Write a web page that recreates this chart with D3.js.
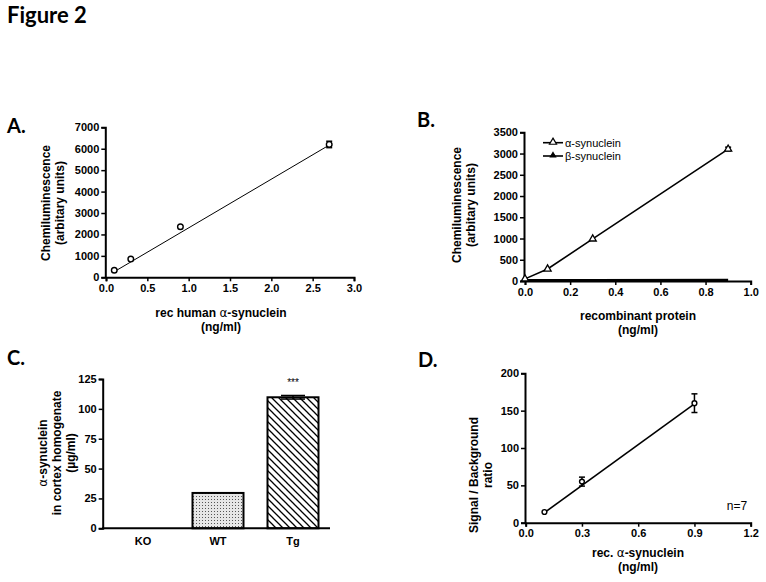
<!DOCTYPE html>
<html><head><meta charset="utf-8">
<script src="https://cdn.jsdelivr.net/npm/d3@7/dist/d3.min.js"></script>
<style>
body{margin:0;background:#fff}
svg{display:block}
.ttl{font-family:"Liberation Sans",Arial,sans-serif;font-weight:bold;font-size:12px;fill:#000}
.big{font-family:Lato,"Open Sans",sans-serif;font-weight:bold;fill:#000}
</style></head><body>
<script>
// ---------- DATA ----------
// Panel A
const aX = [0.1, 0.3, 0.9, 2.7];
const aY = [330, 850, 2360, 6200];
const aErr = [0, 0, 0, 150];
const aFit = [[0.1, 262], [2.7, 6170]];
const aXTicks = [0, 0.5, 1.0, 1.5, 2.0, 2.5, 3.0];
const aYTicks = [0, 1000, 2000, 3000, 4000, 5000, 6000, 7000];
// Panel B
const bX = [0, 0.1, 0.3, 0.9];
const bAlpha = [50, 282, 990, 3105];
const bAlphaErr = [0, 0, 0, 45];
const bBeta = [12, 14, 14, 16];
const bXTicks = [0, 0.2, 0.4, 0.6, 0.8, 1.0];
const bYTicks = [0, 500, 1000, 1500, 2000, 2500, 3000, 3500];
const bSeries = ["α-synuclein", "β-synuclein"];
// Panel C
const cCats = ["KO", "WT", "Tg"];
const cVals = [0, 29.6, 109.7];
const cErr = [0, 0, 1.5];
const cYTicks = [0, 25, 50, 75, 100, 125];
// Panel D
const dX = [0.1, 0.3, 0.9];
const dY = [14.3, 55, 160];
const dErr = [0, 6, 12.5];
const dFit = [[0.1, 13.5], [0.9, 159]];
const dXTicks = [0, 0.3, 0.6, 0.9, 1.2];
const dYTicks = [0, 50, 100, 150, 200];

// ---------- DRAW ----------
const svg = d3.select("body").append("svg").attr("width", 766).attr("height", 582);
const defs = svg.append("defs");
const hatch = defs.append("pattern").attr("id","hatch").attr("patternUnits","userSpaceOnUse")
  .attr("width",7).attr("height",7);
hatch.append("rect").attr("width",7).attr("height",7).attr("fill","#fff");
hatch.append("path").attr("d","M-1,-1 L8,8 M-1,6 L1,8 M6,-1 L8,1").attr("stroke","#000").attr("stroke-width",1.3);
const dots = defs.append("pattern").attr("id","dots").attr("patternUnits","userSpaceOnUse")
  .attr("width",3).attr("height",3);
dots.append("rect").attr("width",3).attr("height",3).attr("fill","#e6e6e6");
dots.append("rect").attr("x",1).attr("y",1).attr("width",1).attr("height",1).attr("fill","#555");

svg.append("text").attr("class","big").attr("x",7).attr("y",23).attr("font-size",22).text("Figure 2");
[["A.",7,133],["B.",417,127],["C.",7,365],["D.",418,367]].forEach(([t,x,y])=>
  svg.append("text").attr("class","big").attr("x",x).attr("y",y).attr("font-size",20).text(t));

function styleAxis(g){
  g.attr("font-family","Liberation Sans, Arial, sans-serif").attr("font-size",11).attr("font-weight","bold");
  g.select(".domain").attr("stroke","#000").attr("stroke-width",2);
  g.selectAll(".tick line").attr("stroke","#000").attr("stroke-width",1.5);
  g.selectAll(".tick text").attr("fill","#000");
}
const fmt1 = d3.format(".1f");
const fmtI = d3.format("d");

function title(lines, x, y, rotate){
  const t = svg.append("text").attr("class","ttl").attr("text-anchor","middle")
    .attr("transform", rotate ? `translate(${x},${y}) rotate(-90)` : `translate(${x},${y})`);
  lines.forEach((ln,i)=>{
    const ts = t.append("tspan").attr("x",0).attr("dy", i===0 ? 0 : 14);
    ln.split(/(α|β)/).forEach(part=>{
      if(!part) return;
      const s = ts.append("tspan").text(part);
      if(/α|β/.test(part)) s.attr("font-weight","normal").attr("font-family","DejaVu Sans");
    });
  });
  return t;
}

function errBars(g, xs, ys, es, x, y, cap){
  xs.forEach((xv,i)=>{
    if(!es[i]) return;
    const px = x(xv), y1 = y(ys[i]-es[i]), y2 = y(ys[i]+es[i]);
    g.append("line").attr("x1",px).attr("x2",px).attr("y1",y1).attr("y2",y2).attr("stroke","#000").attr("stroke-width",1.5);
    [y1,y2].forEach(yy=>g.append("line").attr("x1",px-cap).attr("x2",px+cap).attr("y1",yy).attr("y2",yy).attr("stroke","#000").attr("stroke-width",1.5));
  });
}

// ---- Panel A ----
{
  const x = d3.scaleLinear().domain([0,3]).range([106,354]);
  const y = d3.scaleLinear().domain([0,7000]).range([277.3,127.3]);
  const g = svg.append("g");
  g.append("g").attr("transform","translate(0,277.3)").call(d3.axisBottom(x).tickValues(aXTicks).tickFormat(fmt1).tickSize(4).tickPadding(3)).call(styleAxis);
  g.append("g").attr("transform","translate(105.3,0)").call(d3.axisLeft(y).tickValues(aYTicks).tickFormat(fmtI).tickSize(4).tickPadding(2)).call(styleAxis);
  g.append("path").attr("d", d3.line().x(d=>x(d[0])).y(d=>y(d[1]))(aFit)).attr("stroke","#000").attr("stroke-width",1).attr("fill","none");
  errBars(g, aX, aY, aErr, x, y, 3);
  g.selectAll("circle.pa").data(aX).join("circle").attr("cx",d=>x(d)).attr("cy",(d,i)=>y(aY[i])).attr("r",2.8)
    .attr("fill","#fff").attr("stroke","#000").attr("stroke-width",1.4);
  title(["Chemiluminescence","(arbitary units)"], 50, 203, true);
  title(["rec human α-synuclein","(ng/ml)"], 221, 317, false);
}

// ---- Panel B ----
{
  const x = d3.scaleLinear().domain([0,1]).range([525,750.7]);
  const y = d3.scaleLinear().domain([0,3500]).range([281,132.3]);
  const g = svg.append("g");
  g.append("g").attr("transform","translate(0,281)").call(d3.axisBottom(x).tickValues(bXTicks).tickFormat(fmt1).tickSize(4).tickPadding(3)).call(styleAxis);
  g.append("g").attr("transform","translate(524,0)").call(d3.axisLeft(y).tickValues(bYTicks).tickFormat(fmtI).tickSize(4).tickPadding(2)).call(styleAxis);
  const line = d3.line().x((d,i)=>x(bX[i])).y(d=>y(d));
  g.append("path").attr("d", line(bBeta)).attr("stroke","#000").attr("stroke-width",3).attr("fill","none");
  g.append("path").attr("d", line(bAlpha)).attr("stroke","#000").attr("stroke-width",1.6).attr("fill","none");
  errBars(g, bX, bAlpha, bAlphaErr, x, y, 3);
  const tri = d3.symbol().type(d3.symbolTriangle).size(22);
  g.selectAll("path.ta").data(bX).join("path").attr("transform",(d,i)=>`translate(${x(d)},${y(bAlpha[i])})`)
    .attr("d",tri).attr("fill","#fff").attr("stroke","#000").attr("stroke-width",1.3);
  const lg = svg.append("g");
  const triS = d3.symbol().type(d3.symbolTriangle);
  bSeries.forEach((s,i)=>{
    const ly = 142.7 + i*13.3;
    lg.append("line").attr("x1",543).attr("x2",563).attr("y1",ly).attr("y2",ly).attr("stroke","#000").attr("stroke-width",1.6);
    lg.append("path").attr("transform",`translate(553,${ly-0.5})`).attr("d",triS.size(i===0?22:12)())
      .attr("fill", i===0 ? "#fff" : "#000").attr("stroke","#000").attr("stroke-width",1.2);
    lg.append("text").attr("x",565).attr("y",ly+4).attr("font-family","Liberation Sans, Arial, sans-serif")
      .attr("font-size",11).text(s);
  });
  title(["Chemiluminescence","(arbitary units)"], 461, 205, true);
  title(["recombinant protein","(ng/ml)"], 638, 320, false);
}

// ---- Panel C ----
{
  const x = d3.scaleBand().domain(cCats).range([105.5,330.5]).paddingInner(0.32).paddingOuter(0.16);
  const y = d3.scaleLinear().domain([0,125]).range([528.3,379]);
  const g = svg.append("g");
  g.selectAll("rect.bar").data(cCats).join("rect")
    .attr("x",d=>x(d)).attr("width",x.bandwidth())
    .attr("y",(d,i)=>y(cVals[i])).attr("height",(d,i)=>y(0)-y(cVals[i]))
    .attr("fill",(d,i)=> i===1 ? "url(#dots)" : "url(#hatch)")
    .attr("stroke",(d,i)=> cVals[i]>0 ? "#000" : "none").attr("stroke-width",2);
  cCats.forEach((c,i)=>{
    if(!cErr[i]) return;
    const cx = x(c)+x.bandwidth()/2;
    const y1 = y(cVals[i]-cErr[i]), y2 = y(cVals[i]+cErr[i]);
    g.append("line").attr("x1",cx).attr("x2",cx).attr("y1",y1).attr("y2",y2).attr("stroke","#000").attr("stroke-width",1.5);
    [y1,y2].forEach(yy=>g.append("line").attr("x1",cx-12).attr("x2",cx+12).attr("y1",yy).attr("y2",yy).attr("stroke","#000").attr("stroke-width",1.5));
  });
  g.append("text").attr("x",x("Tg")+x.bandwidth()/2).attr("y",386).attr("text-anchor","middle")
    .attr("font-family","Liberation Sans, Arial, sans-serif").attr("font-size",10).text("***");
  g.append("g").attr("transform","translate(0,528.3)").call(d3.axisBottom(x).tickSize(0).tickPadding(9)).call(styleAxis)
    .call(a=>a.select(".domain").attr("d","M102,0H330"));
  g.append("g").attr("transform","translate(102.7,0)").call(d3.axisLeft(y).tickValues(cYTicks).tickFormat(fmtI).tickSize(4).tickPadding(2)).call(styleAxis);
  title(["α-synuclein","in cortex homogenate","(µg/ml)"], 47, 453, true);
}

// ---- Panel D ----
{
  const x = d3.scaleLinear().domain([0,1.2]).range([525.7,750.7]);
  const y = d3.scaleLinear().domain([0,200]).range([522.7,373.3]);
  const g = svg.append("g");
  g.append("g").attr("transform","translate(0,522.7)").call(d3.axisBottom(x).tickValues(dXTicks).tickFormat(fmt1).tickSize(4).tickPadding(3)).call(styleAxis);
  g.append("g").attr("transform","translate(525,0)").call(d3.axisLeft(y).tickValues(dYTicks).tickFormat(fmtI).tickSize(4).tickPadding(2)).call(styleAxis);
  g.append("path").attr("d", d3.line().x(d=>x(d[0])).y(d=>y(d[1]))(dFit)).attr("stroke","#000").attr("stroke-width",1.6).attr("fill","none");
  errBars(g, dX, dY, dErr, x, y, 3);
  g.selectAll("circle.pd").data(dX).join("circle").attr("cx",d=>x(d)).attr("cy",(d,i)=>y(dY[i])).attr("r",2.4)
    .attr("fill","#fff").attr("stroke","#000").attr("stroke-width",1.4);
  g.append("text").attr("x",737).attr("y",510).attr("text-anchor","middle")
    .attr("font-family","Liberation Sans, Arial, sans-serif").attr("font-size",12).text("n=7");
  title(["Signal / Background","ratio"], 478, 475, true);
  title(["rec. α-synuclein","(ng/ml)"], 638, 557, false);
}
</script>
</body></html>
